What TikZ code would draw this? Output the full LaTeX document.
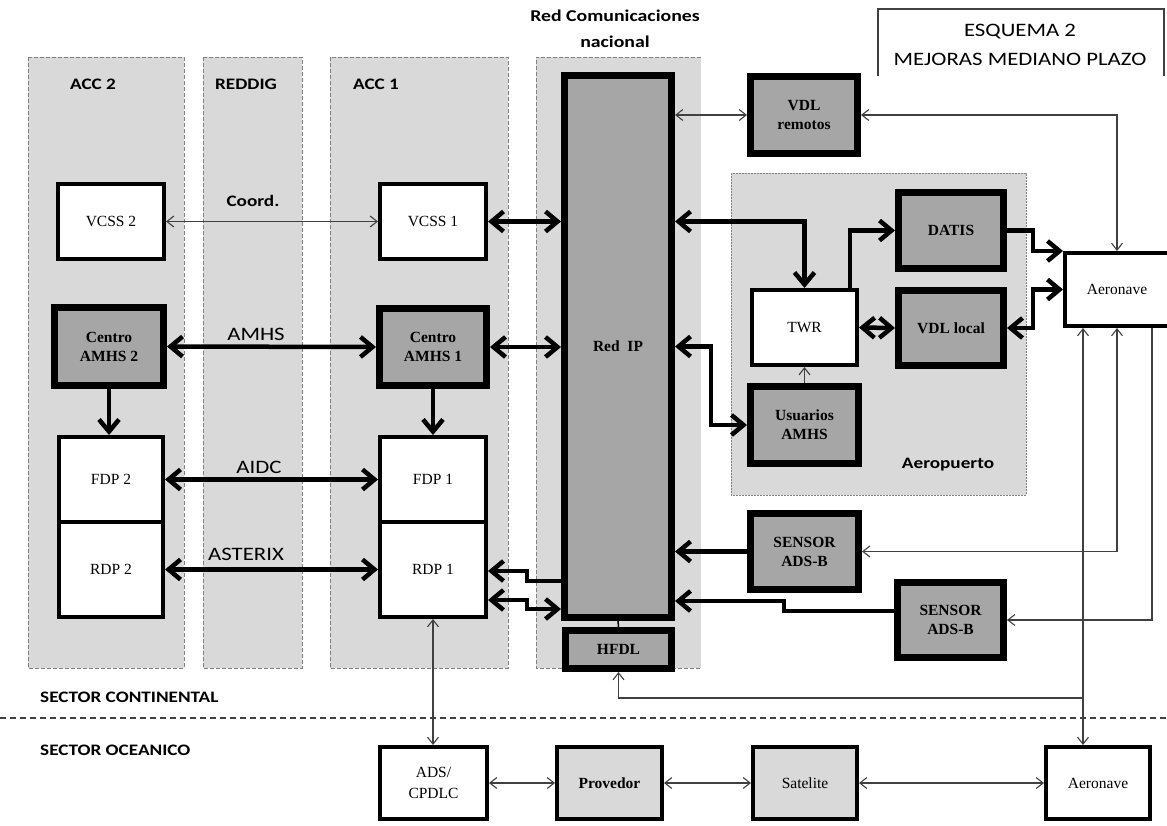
\documentclass[tikz,border=0pt]{standalone}
\usepackage{fontspec}
\setmainfont{Liberation Serif}
\newfontfamily\lab{Carlito}[FakeStretch=1.2]
\usetikzlibrary{arrows.meta,calc}
\definecolor{panelgray}{HTML}{D9D9D9}
\definecolor{boxgray}{HTML}{A6A6A6}
\definecolor{linegray}{HTML}{404040}
\definecolor{edgegray}{HTML}{808080}
\tikzset{
  panel/.style={fill=panelgray, draw=edgegray, line width=0.9pt, dash pattern=on 4pt off 2pt},
  sz/.style 2 args={minimum width=#1pt, minimum height=#2pt},
  wbox/.style={draw=black, fill=white, line width=4pt, inner sep=0pt, align=center, font=\fontsize{15.5}{21}\selectfont},
  gbox/.style={draw=black, fill=boxgray, line width=7pt, inner sep=0pt, align=center, font=\fontsize{15.5}{19}\selectfont\bfseries},
  lbox/.style={wbox, fill=panelgray},
  thk/.style={line width=4.5pt, >={Straight Barb[length=12pt,width=20pt]}},
  thn/.style={line width=1.1pt, draw=linegray, >={Straight Barb[length=7pt,width=11pt]}},
  lbl/.style={inner sep=0pt, anchor=base, font=\lab\bfseries\fontsize{16}{18}\selectfont},
  proto/.style={inner sep=0pt, anchor=base, font=\lab\fontsize{19}{22}\selectfont},
}
\begin{document}
\begin{tikzpicture}[x=1pt,y=-1pt]
\useasboundingbox (0,0) rectangle (1167,825);

% panels
\draw[panel] (28,57) rectangle (184,668);
\draw[panel] (203,57) rectangle (302,668);
\draw[panel] (330,57) rectangle (508,668);
\fill[panelgray] (536,57) rectangle (701,668);
\draw[panel] (701,57) -- (536,57) -- (536,668) -- (701,668);
\draw[panel, dash pattern=on 2pt off 1pt] (731,173) rectangle (1026,495);

% title
\draw[line width=1.5pt, draw=linegray] (878,76) -- (878,9) -- (1164,9) -- (1164,76);
\node[proto] (t1) at (1020,36) {ESQUEMA 2};
\node[proto] (t2) at (1020,65) {MEJORAS MEDIANO PLAZO};
\node[lbl, font=\lab\bfseries\fontsize{16.5}{18}\selectfont] (rc1) at (615,21) {Red Comunicaciones};
\node[lbl, font=\lab\bfseries\fontsize{16.5}{18}\selectfont] (rc2) at (615,47) {nacional};

% labels
\node[lbl] (lacc2) at (93,89) {ACC 2};
\node[lbl] (lreddig) at (246,89) {REDDIG};
\node[lbl] (lacc1) at (376,89) {ACC 1};
\node[lbl] (lcoord) at (253,206) {Coord.};
\node[proto] (lamhs) at (256,340) {AMHS};
\node[proto] (laidc) at (259,473) {AIDC};
\node[proto] (laster) at (246,560) {ASTERIX};
\node[lbl] (laero) at (948,468) {Aeropuerto};
\node[lbl, anchor=base west] (lcont) at (40,702) {SECTOR CONTINENTAL};
\node[lbl, anchor=base west] (locea) at (40,755) {SECTOR OCEANICO};

% sector separator
\draw[draw=linegray, line width=1.5pt, dash pattern=on 6pt off 4pt] (0,718) -- (1167,718);

% boxes
\node[wbox, sz={106}{75}] (vcss2) at (111,221.5) {VCSS 2};
\node[wbox, sz={106}{75}] (vcss1) at (433,221.5) {VCSS 1};
\node[gbox, sz={109}{78}] (amhs2) at (109,346.5) {Centro\\AMHS 2};
\node[gbox, sz={107}{77}] (amhs1) at (433,347) {Centro\\AMHS 1};
\node[wbox, sz={104}{85}] (fdp2) at (111,479.5) {FDP 2};
\node[wbox, sz={104}{95}] (rdp2) at (111,569.5) {RDP 2};
\node[wbox, sz={106}{85}] (fdp1) at (433,479.5) {FDP 1};
\node[wbox, sz={106}{95}] (rdp1) at (433,569.5) {RDP 1};
\node[gbox, sz={107}{542}] (redip) at (618,346.5) {Red\ \ IP};
\node[gbox, sz={106}{38}] (hfdl) at (618.5,649.5) {HFDL};
\node[gbox, sz={107}{77}] (vdlrem) at (804,115) {VDL\\remotos};
\node[wbox, sz={105}{75}] (twr) at (804.5,327.5) {TWR};
\node[gbox, sz={105}{76}] (datis) at (951,230.5) {DATIS};
\node[gbox, sz={105}{75}] (vdllocal) at (951,328) {VDL local};
\node[gbox, sz={108}{77}] (usuarios) at (804.5,425) {Usuarios\\AMHS};
\node[gbox, sz={108}{76}] (sensor1) at (804.5,551.5) {SENSOR\\ADS-B};
\node[gbox, sz={106}{75}] (sensor2) at (950.5,620) {SENSOR\\ADS-B};
\node[wbox, sz={116}{73}] (aer1) at (1123,289.5) {\hspace*{-12pt}Aeronave};
\node[wbox, sz={107}{72}] (adscpdlc) at (433.5,783) {ADS/\\CPDLC};
\node[lbox, sz={105}{72}, font=\fontsize{15.5}{21}\selectfont\bfseries] (provedor) at (609.5,783) {Provedor};
\node[lbox, sz={104}{72}] (satelite) at (805,783) {Satelite};
\node[wbox, sz={104}{72}] (aer2) at (1098,783) {Aeronave};

% thick connectors
\draw[thk,<->] (amhs2.east) -- (amhs1.west);
\draw[thk,->] (amhs2.south) -- (amhs2.south |- fdp2.north);
\draw[thk,->] (amhs1.south) -- (amhs1.south |- fdp1.north);
\draw[thk,<->] (fdp2.east) -- (fdp1.west);
\draw[thk,<->] (rdp2.east) -- (rdp1.west);
\draw[thk,<->] (vcss1.east) -- (vcss1.east -| redip.west);
\draw[thk,<->] (amhs1.east) -- (amhs1.east -| redip.west);
\draw[thk,<-] (rdp1.east |- 0,571) -- ++(39,0) -- ++(0,10) -- (redip.west |- 0,581);
\draw[thk,<->] (rdp1.east |- 0,600) -- ++(39,0) -- ++(0,9) -- (redip.west |- 0,609);
\draw[thk,<->] (redip.east |- vcss1.east) -| (twr.north);
\draw[thk,->] ($(twr.north east)+(-9,0)$) |- (datis.west);
\draw[thk,<->] (twr.east) -- (vdllocal.west);
\draw[thk,->] (datis.east) -- ++(26,0) |- (aer1.north west);
\draw[thk,<->] (vdllocal.east) -- ++(26,0) |- (aer1.west);
\draw[thk,<->] (redip.east) -- ++(36,0) |- (usuarios.west);
\draw[thk,->] (sensor1.west) -- (sensor1.west -| redip.east);
\draw[thk,->] (sensor2.west |- 0,611) -- ++(-110,0) -- ++(0,-10) -- (redip.east |- 0,601);
\draw[line width=1.5pt] (redip.south) -- (hfdl.north);

% thin connectors
\coordinate (j) at (1083,698);
\coordinate (k) at (1152,620);
\coordinate (m) at (1117,0);
\draw[thn,<->] (vcss2.east) -- (vcss1.west);
\draw[thn,<->] (vdlrem.west -| redip.east) -- (vdlrem.west);
\draw[thn,<->] (vdlrem.east) -| (aer1.north -| m);
\draw[thn,->] (usuarios.north) -- (twr.south);
\draw[thn,<->] (aer1.south -| m) |- (sensor1.east);
\draw[thn,<->] (aer1.south -| j) -- (j) -| (hfdl.south);
\draw[thn,->] (j) -- (j |- aer2.north);
\draw[thn,->] (aer1.south -| k) -- (k) -- (sensor2.east);
\draw[thn,<->] (rdp1.south) -- (rdp1.south |- adscpdlc.north);
\draw[thn,<->] (adscpdlc.east) -- (provedor.west);
\draw[thn,<->] (provedor.east) -- (satelite.west);
\draw[thn,<->] (satelite.east) -- (aer2.west);
\end{tikzpicture}
\end{document}
